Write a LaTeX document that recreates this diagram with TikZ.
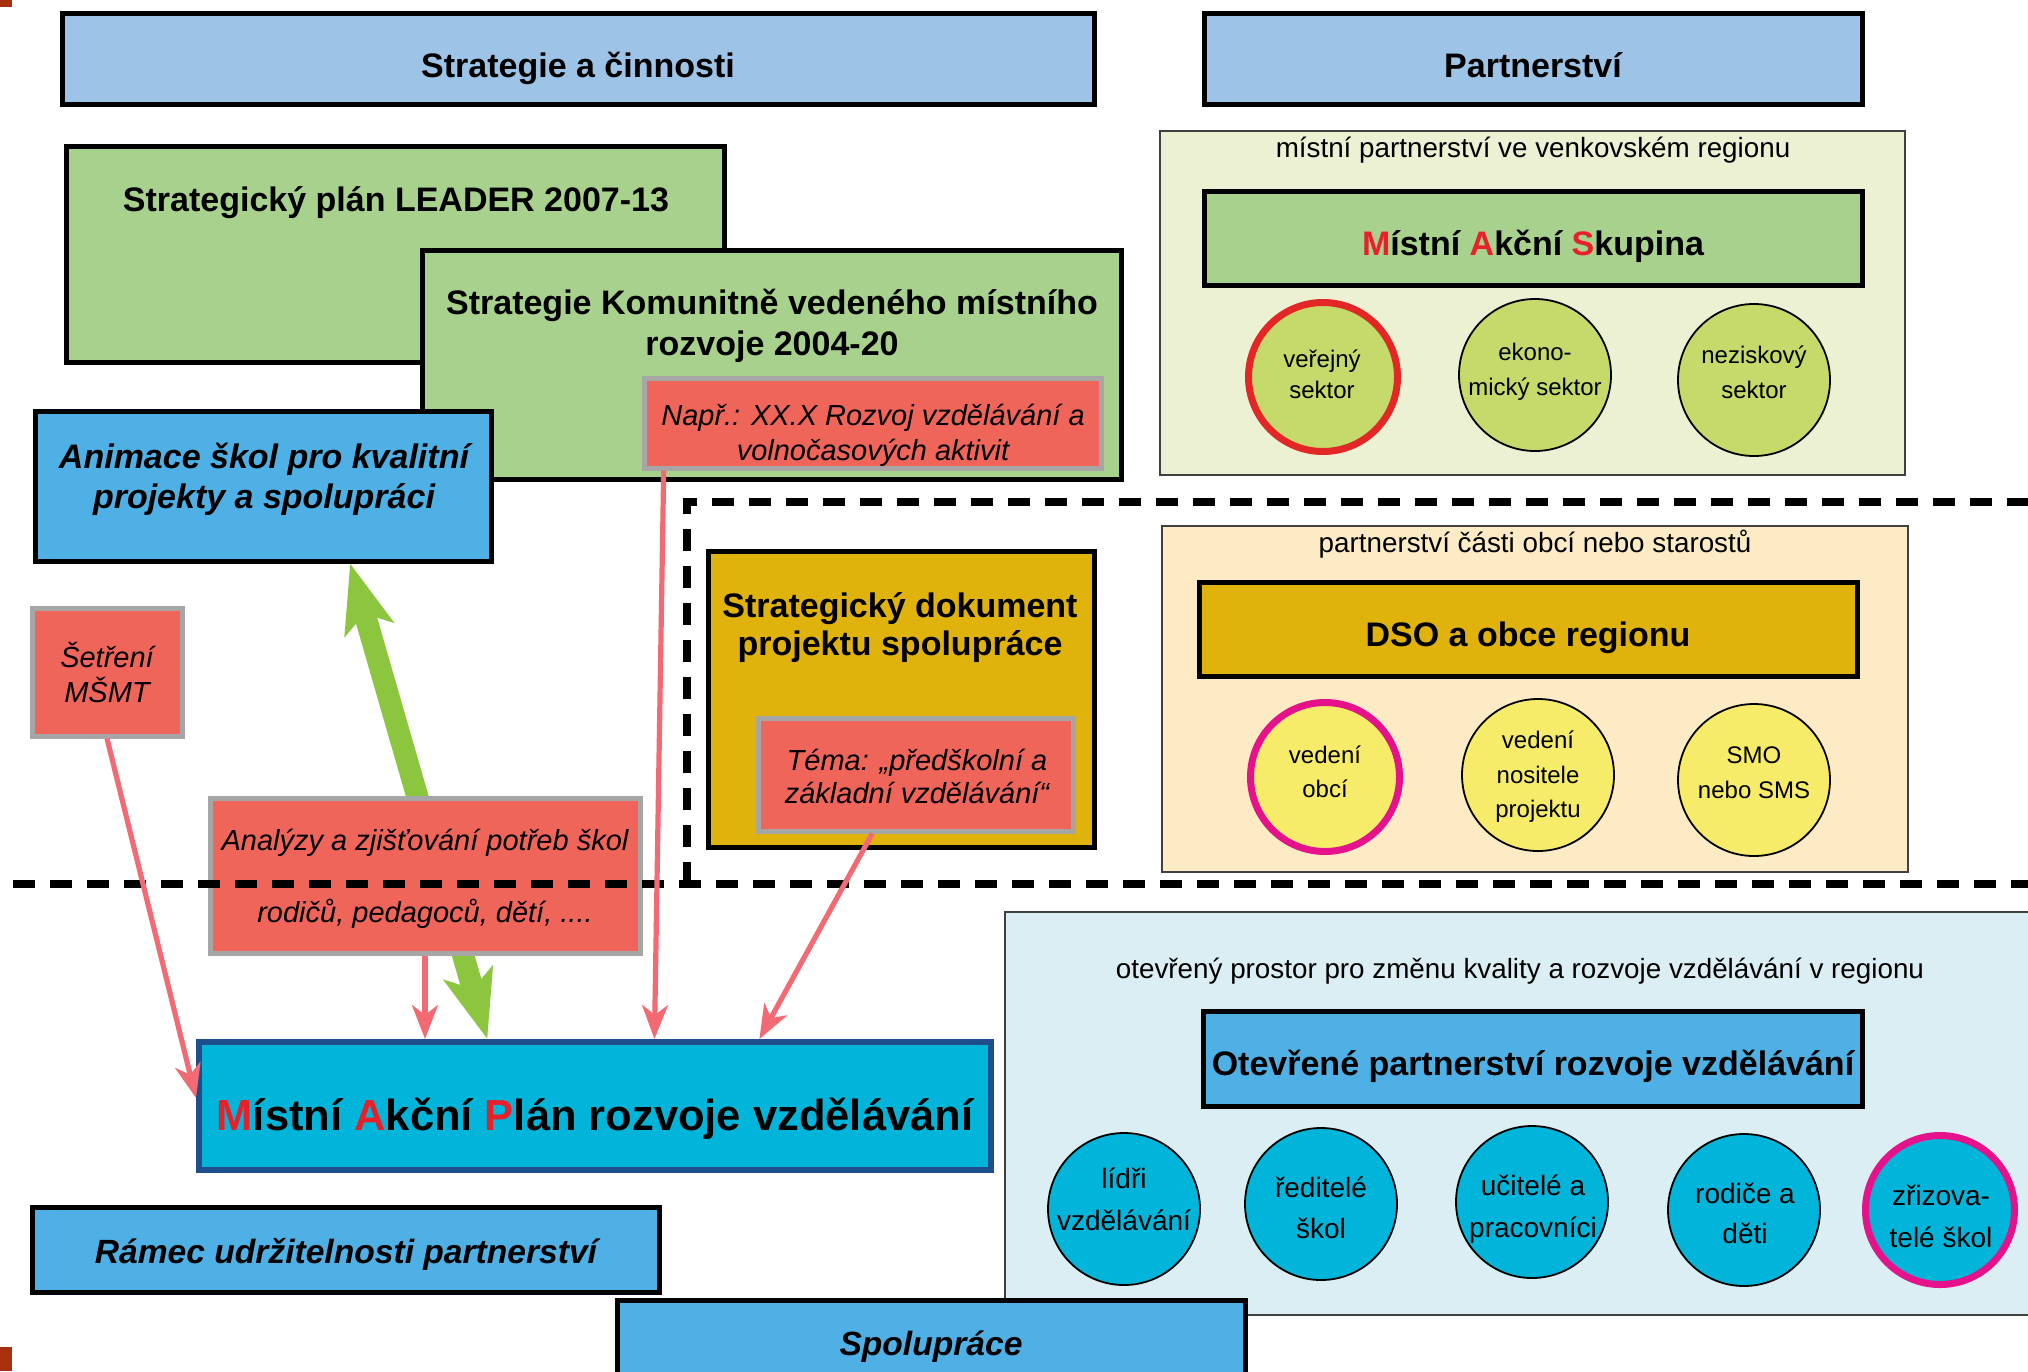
\documentclass[tikz,border=0pt]{standalone}
\usepackage{fontspec}
\setmainfont{Liberation Sans}
\usetikzlibrary{arrows.meta,calc,fit}
\definecolor{hdrblue}{HTML}{9DC3E6}
\definecolor{boxgreen}{HTML}{A9D18E}
\definecolor{salmon}{HTML}{F0655A}
\definecolor{redgray}{HTML}{A6A6A6}
\definecolor{skyblue}{HTML}{4EB0E4}
\definecolor{mapcyan}{HTML}{00B5D9}
\definecolor{mapborder}{HTML}{1F4E8C}
\definecolor{gold}{HTML}{E0B20C}
\definecolor{beige}{HTML}{FDEBC6}
\definecolor{palegreen}{HTML}{EBF1D2}
\definecolor{paleblue}{HTML}{DAEEF3}
\definecolor{olive}{HTML}{C5DA6B}
\definecolor{yel}{HTML}{F7EC6A}
\definecolor{rimred}{HTML}{E32626}
\definecolor{rimmag}{HTML}{E5128C}
\definecolor{arrred}{HTML}{F26B74}
\definecolor{arrgreen}{HTML}{8CC63F}
\definecolor{letred}{HTML}{E8202A}
\definecolor{cornerc}{HTML}{A8300F}
\newcommand\redl[1]{\textcolor{letred}{#1}}
\tikzset{
  bx/.style={draw=black, line width=2.5pt, inner sep=0pt},
  rbx/.style={draw=redgray, line width=2.5pt, fill=salmon, inner sep=0pt},
  reg/.style={draw=black!75, line width=1pt, inner sep=0pt},
  txt/.style={anchor=base, inner sep=0pt},
  hd/.style={txt, font=\fontsize{17}{20}\selectfont\bfseries},
  bi/.style={txt, font=\fontsize{17}{20}\selectfont\bfseries\itshape},
  bi2/.style={txt, font=\fontsize{16.8}{20}\selectfont\bfseries\itshape},
  it/.style={txt, font=\fontsize{14.5}{17}\selectfont\itshape},
  sub/.style={txt, font=\fontsize{13.9}{16}\selectfont},
  ct/.style={txt, font=\fontsize{12}{14}\selectfont},
  ctb/.style={txt, font=\fontsize{14}{16}\selectfont},
  circ/.style={circle, draw=black, line width=0.9pt, minimum size=76pt, inner sep=0pt},
  rim/.style={line width=3.5pt, minimum size=74.5pt},
  dashline/.style={line width=4pt, dash pattern=on 11pt off 7.5pt},
  redarr/.style={draw=arrred, line width=2.6pt, -{Stealth[length=17pt,width=13pt,inset=5pt]}},
  greenarr/.style={draw=arrgreen, line width=11pt,
     {Stealth[length=34pt,width=25pt,inset=8pt]}-{Stealth[length=34pt,width=25pt,inset=8pt]}}
}
\begin{document}
\begin{tikzpicture}[x=0.5pt,y=-0.5pt]
\path[use as bounding box] (0,0) rectangle (2028,1371);
\clip (0,0) rectangle (2028,1371);
\fill[white] (0,0) rectangle (2028,1371);

% headers
\node[bx, fill=hdrblue, fit={(62,13)(1094,104)}] (hdrL) {};
\node[hd] (hdrLt) at (578,77) {Strategie a činnosti};
\node[bx, fill=hdrblue, fit={(1204,13)(1862,104)}] (hdrR) {};
\node[hd] (hdrRt) at (1533,77) {Partnerství};

% strategies
\node[bx, fill=boxgreen, fit={(66,146)(724,362)}] (leader) {};
\node[hd] (leadert) at (396,211) {Strategický plán LEADER 2007-13};
\node[bx, fill=boxgreen, fit={(422,250)(1121,479)}] (klls) {};
\node[hd] (kllsa) at (772,314) {Strategie Komunitně vedeného místního};
\node[hd] (kllsb) at (772,355) {rozvoje 2004-20};
\node[rbx, fit={(644,378)(1101,468)}] (napr) {};
\node[it] (napra) at (873,425) {Např.: XX.X Rozvoj vzdělávání a};
\node[it] (naprb) at (873,460) {volnočasových aktivit};
\node[bx, fill=skyblue, fit={(35,411)(491,561)}] (anim) {};
\node[bi] (anima) at (264,468) {Animace škol pro kvalitní};
\node[bi] (animb) at (264,508) {projekty a spolupráci};

% rural partnership
\node[reg, fill=palegreen, fit={(1160,131)(1905,475)}] (rural) {};
\node[sub] (ruralt) at (1533,157) {místní partnerství ve venkovském regionu};
\node[bx, fill=boxgreen, fit={(1204,191)(1862,285)}] (mas) {};
\node[hd] (mast) at (1533,255) {\redl{M}ístní \redl{A}kční \redl{S}kupina};
\node[circ, rim, fill=olive, draw=rimred] (pub) at (1323,377) {};
\node[ct] (puba) at (1322,367) {veřejný};
\node[ct] (pubb) at (1322,398) {sektor};
\node[circ, fill=olive] (eco) at (1535,375) {};
\node[ct] (ecoa) at (1535,360) {ekono-};
\node[ct] (ecob) at (1535,395) {mický sektor};
\node[circ, fill=olive] (ngo) at (1754,380) {};
\node[ct] (ngoa) at (1754,363) {neziskový};
\node[ct] (ngob) at (1754,398) {sektor};

% municipalities
\node[reg, fill=beige, fit={(1162,526)(1908,872)}] (obce) {};
\node[sub] (obcet) at (1535,552) {partnerství části obcí nebo starostů};
\node[bx, fill=gold, fit={(1199,582)(1857,676)}] (dso) {};
\node[hd] (dsot) at (1528,646) {DSO a obce regionu};
\node[circ, rim, fill=yel, draw=rimmag] (ved) at (1325,777) {};
\node[ct] (veda) at (1325,763) {vedení};
\node[ct] (vedb) at (1325,797) {obcí};
\node[circ, fill=yel] (nos) at (1538,775) {};
\node[ct] (nosa) at (1538,748) {vedení};
\node[ct] (nosb) at (1538,783) {nositele};
\node[ct] (nosc) at (1538,817) {projektu};
\node[circ, fill=yel] (smo) at (1754,780) {};
\node[ct] (smoa) at (1754,763) {SMO};
\node[ct] (smob) at (1754,798) {nebo SMS};

% open space
\node[reg, fill=paleblue, fit={(1005,912)(2045,1315)}] (open) {};
\node[sub] (opent) at (1520,978) {otevřený prostor pro změnu kvality a rozvoje vzdělávání v regionu};
\node[bx, fill=skyblue, fit={(1203,1011)(1862,1106)}] (opp) {};
\node[hd] (oppt) at (1533,1075) {Otevřené partnerství rozvoje vzdělávání};
\node[circ, fill=mapcyan] (lid) at (1124,1209) {};
\node[ctb] (lida) at (1124,1188) {lídři};
\node[ctb] (lidb) at (1124,1230) {vzdělávání};
\node[circ, fill=mapcyan] (red) at (1321,1204) {};
\node[ctb] (reda) at (1321,1197) {ředitelé};
\node[ctb] (redb) at (1321,1238) {škol};
\node[circ, fill=mapcyan] (uci) at (1532,1202) {};
\node[ctb] (ucia) at (1533,1195) {učitelé a};
\node[ctb] (ucib) at (1533,1237) {pracovníci};
\node[circ, fill=mapcyan] (rod) at (1744,1210) {};
\node[ctb] (roda) at (1745,1203) {rodiče a};
\node[ctb] (rodb) at (1745,1243) {děti};
\node[circ, rim, fill=mapcyan, draw=rimmag] (zri) at (1940,1210) {};
\node[ctb] (zria) at (1941,1205) {zřizova-};
\node[ctb] (zrib) at (1941,1247) {telé škol};

% cooperation document
\node[bx, fill=gold, fit={(708,551)(1094,847)}] (doc) {};
\node[hd] (doca) at (900,617) {Strategický dokument};
\node[hd] (docb) at (900,655) {projektu spolupráce};
\node[rbx, fit={(758,718)(1073,831)}] (tema) {};
\node[it] (temaa) at (917,770) {Téma: „předškolní a};
\node[it] (temab) at (917,803) {základní vzdělávání“};

% MAP box
\node[draw=mapborder, line width=3pt, fill=mapcyan, inner sep=0pt, fit={(199,1042)(991,1170)}] (map) {};
\node[txt, font=\fontsize{21.75}{25}\selectfont\bfseries] (mapt) at (595,1130)
  {\redl{M}ístní \redl{A}kční \redl{P}lán rozvoje vzdělávání};

% green double arrow (behind the analysis box)
\draw[greenarr] ($(anim.south west)!0.689!(anim.south east)$) -- ($(map.north west)!0.365!(map.north east)$);

% analysis and survey boxes
\node[rbx, fit={(210,798)(640,953)}] (ana) {};
\node[it] (anaa) at (425,850) {Analýzy a zjišťování potřeb škol};
\node[it] (anab) at (425,922) {rodičů, pedagoců, dětí, ....};
\node[rbx, fit={(32,608)(182,736)}] (set) {};
\node[it] (seta) at (107,667) {Šetření};
\node[it] (setb) at (107,702) {MŠMT};

% dashed separators
\draw[dashline] (687,884) -- (687,502) -- (2040,502);
\draw[dashline] (13,884) -- (2040,884);

% red arrows
\draw[redarr] (set.south) -- ($(map.north west)!0.44!(map.south west)$);
\draw[redarr] (ana.south) -- (ana.south |- map.north);
\draw[redarr] ($(napr.south west)!0.048!(napr.south east)$) -- ($(map.north west)!0.5745!(map.north east)$);
\draw[redarr] ($(tema.south west)!0.365!(tema.south east)$) -- ($(map.north west)!0.706!(map.north east)$);

% bottom boxes
\node[bx, fill=skyblue, fit={(32,1207)(659,1292)}] (ramec) {};
\node[bi2] (ramect) at (346,1263) {Rámec udržitelnosti partnerství};
\node[bx, fill=skyblue, fit={(617,1300)(1245,1400)}] (spol) {};
\node[bi2] (spolt) at (931,1355) {Spolupráce};

% slide corner marks
\fill[cornerc] (0,0) rectangle (12,7);
\fill[cornerc] (0,1347) rectangle (12,1371);
\end{tikzpicture}
\end{document}
